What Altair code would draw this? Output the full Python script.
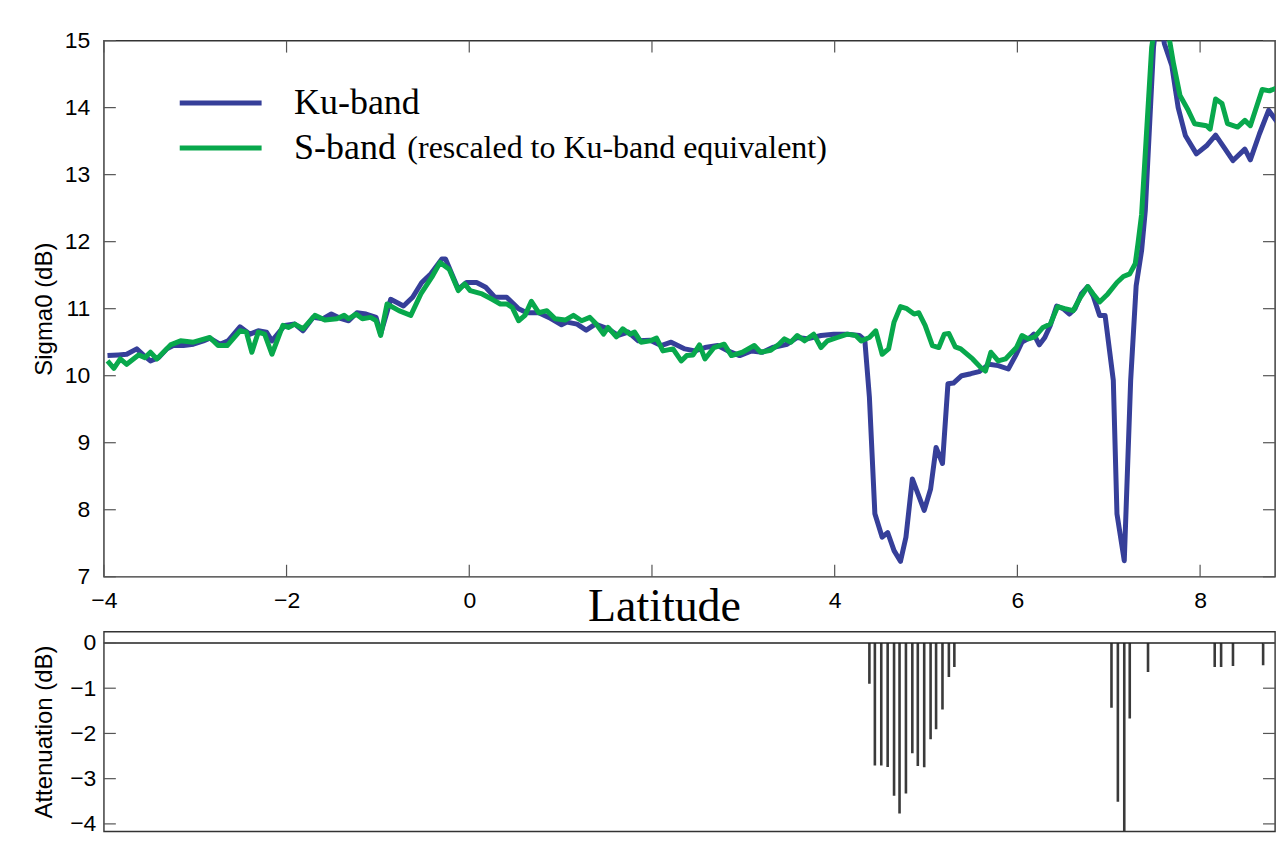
import altair as alt
import pandas as pd

# ---------------- data ----------------
ku_lat = [-3.96, -3.84, -3.75, -3.64, -3.56, -3.49, -3.40, -3.31, -3.24, -3.13, -3.02, -2.91, -2.84, -2.73,
          -2.64, -2.51, -2.40, -2.31, -2.22, -2.16, -2.11, -2.02, -1.91, -1.82, -1.71, -1.60, -1.51, -1.42,
          -1.32, -1.23, -1.13, -1.02, -0.97, -0.86, -0.72, -0.62, -0.52, -0.42, -0.30, -0.26, -0.12, -0.03,
          0.08, 0.18, 0.28, 0.41, 0.54, 0.63, 0.76, 0.87, 1.01, 1.07, 1.18, 1.28, 1.38, 1.52, 1.63, 1.74,
          1.85, 1.98, 2.10, 2.21, 2.36, 2.47, 2.58, 2.72, 2.83, 2.96, 3.09, 3.21, 3.32, 3.48, 3.59, 3.70,
          3.85, 3.99, 4.14, 4.27, 4.33, 4.38, 4.44, 4.52, 4.58, 4.65, 4.72, 4.78, 4.85, 4.98, 5.05, 5.11,
          5.18, 5.24, 5.30, 5.39, 5.49, 5.58, 5.69, 5.79, 5.90, 5.98, 6.05, 6.14, 6.18, 6.24, 6.30, 6.36,
          6.43, 6.50, 6.57, 6.63, 6.70, 6.77, 6.83, 6.90, 6.96, 7.05, 7.09, 7.17, 7.24, 7.30, 7.36, 7.40,
          7.49, 7.54, 7.61, 7.69, 7.76, 7.84, 7.96, 8.07, 8.17, 8.26, 8.36, 8.49, 8.55, 8.65, 8.75, 8.83, 8.89]
ku_sig = [10.30, 10.31, 10.32, 10.40, 10.30, 10.22, 10.27, 10.40, 10.45, 10.45, 10.47, 10.52, 10.56, 10.47,
          10.52, 10.73, 10.62, 10.67, 10.65, 10.52, 10.60, 10.75, 10.77, 10.67, 10.87, 10.85, 10.92, 10.86,
          10.82, 10.94, 10.92, 10.87, 10.62, 11.14, 11.04, 11.17, 11.39, 11.52, 11.74, 11.74, 11.29, 11.39,
          11.39, 11.32, 11.17, 11.17, 11.00, 10.94, 10.94, 10.87, 10.76, 10.80, 10.77, 10.68, 10.77, 10.70, 10.60, 10.65,
          10.52, 10.53, 10.45, 10.50, 10.40, 10.37, 10.42, 10.45, 10.37, 10.30, 10.37, 10.35, 10.42, 10.47, 10.57, 10.55,
          10.60, 10.62, 10.62, 10.60, 10.53, 9.68, 7.94, 7.59, 7.66, 7.39, 7.23, 7.59, 8.46, 7.99, 8.31, 8.93,
          8.69, 9.88, 9.89, 10.00, 10.03, 10.06, 10.17, 10.15, 10.10, 10.30, 10.50, 10.57, 10.62, 10.46, 10.57, 10.75,
          11.04, 11.00, 10.92, 11.00, 11.22, 11.33, 11.19, 10.90, 10.90, 9.93, 7.94, 7.24, 9.93, 11.34, 11.87, 12.46,
          14.90, 15.50, 14.95, 14.63, 14.00, 13.58, 13.31, 13.43, 13.59, 13.41, 13.21, 13.38, 13.22, 13.61, 13.96, 13.81, 13.73]

s_lat = [-3.96, -3.89, -3.82, -3.75, -3.62, -3.55, -3.49, -3.42, -3.27, -3.16, -3.02, -2.84, -2.75, -2.65,
         -2.51, -2.44, -2.38, -2.31, -2.24, -2.16, -2.04, -1.98, -1.91, -1.82, -1.69, -1.58, -1.45, -1.37,
         -1.32, -1.24, -1.17, -1.08, -1.02, -0.97, -0.90, -0.77, -0.64, -0.53, -0.41, -0.32, -0.22, -0.12,
         -0.05, 0.01, 0.14, 0.25, 0.34, 0.41, 0.47, 0.54, 0.61, 0.68, 0.76, 0.85, 0.94, 1.05, 1.14, 1.23,
         1.32, 1.39, 1.47, 1.52, 1.61, 1.68, 1.76, 1.81, 1.88, 1.98, 2.05, 2.12, 2.23, 2.32, 2.38, 2.45,
         2.52, 2.58, 2.68, 2.79, 2.87, 2.99, 3.12, 3.19, 3.30, 3.39, 3.45, 3.52, 3.59, 3.67, 3.77, 3.85,
         3.92, 4.03, 4.14, 4.23, 4.29, 4.38, 4.45, 4.52, 4.59, 4.65, 4.72, 4.79, 4.87, 4.92, 4.99, 5.07,
         5.14, 5.20, 5.25, 5.32, 5.38, 5.51, 5.60, 5.65, 5.71, 5.79, 5.87, 5.94, 5.99, 6.05, 6.12, 6.19,
         6.28, 6.36, 6.44, 6.52, 6.61, 6.69, 6.77, 6.83, 6.90, 6.99, 7.09, 7.16, 7.23, 7.29, 7.32, 7.36,
         7.47, 7.56, 7.66, 7.71, 7.78, 7.87, 7.94, 8.07, 8.11, 8.17, 8.24, 8.30, 8.41, 8.49, 8.55, 8.68,
         8.76, 8.83, 8.89]
s_sig = [10.22, 10.11, 10.25, 10.17, 10.31, 10.27, 10.35, 10.25, 10.46, 10.52, 10.50, 10.57, 10.45, 10.45,
         10.67, 10.65, 10.35, 10.65, 10.62, 10.32, 10.75, 10.72, 10.77, 10.70, 10.90, 10.83, 10.85, 10.90,
         10.85, 10.92, 10.85, 10.87, 10.82, 10.60, 11.07, 10.97, 10.90, 11.22, 11.47, 11.69, 11.59, 11.27,
         11.37, 11.27, 11.22, 11.14, 11.07, 11.07, 11.02, 10.82, 10.90, 11.11, 10.94, 10.97, 10.85, 10.83, 10.90, 10.82,
         10.87, 10.77, 10.62, 10.72, 10.58, 10.70, 10.62, 10.65, 10.50, 10.52, 10.56, 10.37, 10.40, 10.22, 10.30, 10.31,
         10.46, 10.25, 10.42, 10.47, 10.30, 10.35, 10.45, 10.35, 10.38, 10.47, 10.55, 10.50, 10.60, 10.52, 10.62, 10.42,
         10.52, 10.57, 10.62, 10.60, 10.52, 10.57, 10.67, 10.32, 10.40, 10.80, 11.03, 11.00, 10.92, 10.94, 10.75, 10.45,
         10.42, 10.62, 10.63, 10.43, 10.40, 10.25, 10.12, 10.07, 10.35, 10.22, 10.25, 10.35, 10.42, 10.60, 10.55, 10.58,
         10.72, 10.77, 11.03, 11.00, 10.97, 11.17, 11.33, 11.22, 11.10, 11.22, 11.39, 11.48, 11.52, 11.67, 11.97, 12.41,
         14.90, 15.70, 15.05, 14.65, 14.18, 13.96, 13.76, 13.73, 13.68, 14.13, 14.06, 13.76, 13.71, 13.81, 13.73, 14.27,
         14.25, 14.29, 14.23]

att_lat = [4.38, 4.44, 4.51, 4.58, 4.65, 4.71, 4.78, 4.85, 4.91, 4.98, 5.05, 5.11, 5.18, 5.25, 5.31,
           7.03, 7.10, 7.17, 7.23, 7.43,
           8.16, 8.23, 8.36, 8.69, 8.86]
att_db = [-0.90, -2.71, -2.71, -2.74, -3.38, -3.77, -3.33, -2.44, -2.72, -2.75, -2.13, -1.91, -1.47, -0.75, -0.53,
          -1.43, -3.51, -4.23, -1.67, -0.64,
          -0.53, -0.53, -0.51, -0.49, -0.53]

band_names = ["Ku-band", "S-band"]
band_colors = ["#363f99", "#08a84c"]
x_ticks = [-4, -2, 0, 2, 4, 6, 8]
sig_ticks = [7, 8, 9, 10, 11, 12, 13, 14, 15]
att_ticks = [0, -1, -2, -3, -4]
note_text = ["(rescaled to Ku-band equivalent)"]

# ---------------- tables ----------------
lines = pd.concat([
    pd.DataFrame({"lat": ku_lat, "sig": ku_sig, "band": band_names[0]}),
    pd.DataFrame({"lat": s_lat, "sig": s_sig, "band": band_names[1]}),
])
att = pd.DataFrame({"lat": att_lat, "att": att_db})
xt = pd.DataFrame({"lat": x_ticks})
st = pd.DataFrame({"sig": sig_ticks})
at = pd.DataFrame({"att": att_ticks})
note = pd.DataFrame({"txt": note_text})

W = 1173
H1 = 537
H2 = 200
TK = 12
TICK_COLOR = "#555555"
SANS = "Liberation Sans"
SERIF = "Liberation Serif"
MINUS_LABEL = "datum.value < 0 ? '\u2212' + abs(datum.value) : '' + datum.value"

xscale = alt.Scale(domain=[-4, 8.82], nice=False, zero=False)
sscale = alt.Scale(domain=[7, 15], nice=False, zero=False)
ascale = alt.Scale(domain=[-4.165, 0.25], nice=False, zero=False)

# ---------------- top panel ----------------
line_layer = alt.Chart(lines).mark_line(clip=True, strokeWidth=5, strokeJoin="round").encode(
    x=alt.X("lat:Q", scale=xscale,
            axis=alt.Axis(values=x_ticks, labelExpr="datum.value == 2 ? '' : (" + MINUS_LABEL + ")",
                          labelFlush=False,
                          title="Latitude", titleFont=SERIF, titleFontSize=46, titleFontWeight="normal",
                          titleX=561, titleY=44, titleBaseline="alphabetic", titleColor="black",
                          labelPadding=13, tickSize=0)),
    y=alt.Y("sig:Q", scale=sscale,
            axis=alt.Axis(values=sig_ticks, labelExpr=MINUS_LABEL, title="Sigma0 (dB)", titleX=-59,
                          titleBaseline="middle", labelPadding=14, tickSize=0)),
    color=alt.Color("band:N", scale=alt.Scale(domain=band_names, range=band_colors),
                    legend=alt.Legend(orient="none", legendX=73.5, legendY=40, title=None,
                                      symbolType="stroke", symbolSize=6724, symbolStrokeWidth=5,
                                      labelFont=SERIF, labelFontSize=36, labelOffset=30,
                                      labelColor="black", clipHeight=45, rowPadding=0, padding=0,
                                      labelLimit=400)),
    order=alt.Order("band:N", sort="descending"),
)

note_layer = alt.Chart(note).mark_text(font=SERIF, fontSize=32, align="left", baseline="alphabetic",
                                       color="black").encode(
    text="txt:N", x=alt.value(304), y=alt.value(118))


def xticks_layer(h):
    top = alt.Chart(xt).mark_rule(color=TICK_COLOR, strokeWidth=1.2).encode(
        x=alt.X("lat:Q", scale=xscale), y=alt.value(0), y2=alt.value(TK))
    bot = alt.Chart(xt).mark_rule(color=TICK_COLOR, strokeWidth=1.2).encode(
        x=alt.X("lat:Q", scale=xscale), y=alt.value(h - TK), y2=alt.value(h))
    return [top, bot]


def yticks_layer(df, field, scale):
    left = alt.Chart(df).mark_rule(color=TICK_COLOR, strokeWidth=1.2).encode(
        y=alt.Y(f"{field}:Q", scale=scale), x=alt.value(0), x2=alt.value(TK))
    right = alt.Chart(df).mark_rule(color=TICK_COLOR, strokeWidth=1.2).encode(
        y=alt.Y(f"{field}:Q", scale=scale), x=alt.value(W - TK), x2=alt.value(W))
    return [left, right]


top = alt.layer(line_layer, *xticks_layer(H1), *yticks_layer(st, "sig", sscale), note_layer).properties(
    width=W, height=H1)

# ---------------- bottom panel ----------------
bars = alt.Chart(att).mark_rule(color="#3a3a3a", strokeWidth=2.6, clip=True).encode(
    x=alt.X("lat:Q", scale=xscale, axis=None),
    y=alt.Y("att:Q", scale=ascale,
            axis=alt.Axis(values=att_ticks, labelExpr=MINUS_LABEL, title="Attenuation (dB)", titleX=-59,
                          titleBaseline="middle", labelPadding=8, tickSize=0)),
    y2=alt.datum(0),
)

zero_line = alt.Chart(at).transform_filter("datum.att == 0").mark_rule(
    color="#222222", strokeWidth=1.4).encode(y=alt.Y("att:Q", scale=ascale))

bottom = alt.layer(bars, zero_line, *yticks_layer(at, "att", ascale)).properties(width=W, height=H2)

chart = alt.vconcat(top, bottom, spacing=0).properties(
    padding={"left": 24, "top": 20, "right": 0, "bottom": 0}
).configure_view(
    stroke="#333333", strokeWidth=1.4
).configure_axis(
    labelFont=SANS, labelFontSize=23, labelColor="black",
    titleFont=SANS, titleFontSize=24, titleFontWeight="normal", titleColor="black",
    grid=False, domain=False, ticks=False,
)

chart.save("out.html", embed_options={"renderer": "svg", "actions": False})
